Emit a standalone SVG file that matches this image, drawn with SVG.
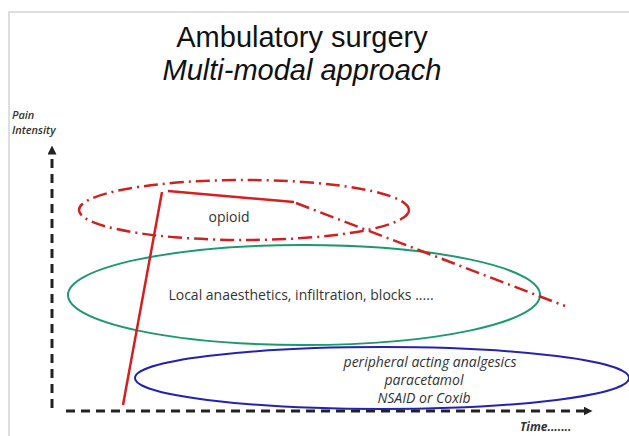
<svg xmlns="http://www.w3.org/2000/svg" width="629" height="436" viewBox="0 0 629 436">
<style>
.border{stroke:#d4d4d4;stroke-width:1.5;fill:none}
.axis{stroke:#222;stroke-width:3;stroke-dasharray:9,6;fill:none}
.red{stroke:#d42020;stroke-width:2.5;fill:none}
.reddd{stroke:#cc2222;stroke-width:2.5;fill:none;stroke-dasharray:14,5,2,5}
.title{font-family:"Liberation Sans",Arial,sans-serif;fill:#111;text-anchor:middle;font-size:29px}
.lbl{font-family:"Open Sans","DejaVu Sans",sans-serif;fill:#333;font-size:14px}
.ax{font-family:"Open Sans","DejaVu Sans",sans-serif;fill:#333;font-size:11px;font-style:italic;font-weight:600}
.tm{font-family:"Open Sans","DejaVu Sans",sans-serif;fill:#333;font-size:12px;font-style:italic;font-weight:700}
</style>
<defs>
<marker id="ah" viewBox="0 0 10 10" refX="5" refY="5" markerWidth="3" markerHeight="3" orient="auto">
<path d="M0,0 L10,5 L0,10 z" fill="#222"/>
</marker>
</defs>
<rect width="629" height="436" fill="#fff"/>
<path class="border" d="M9,436 V12 H629"/>
<g id="title">
<text class="title" x="302" y="47">Ambulatory surgery</text>
<text class="title" x="302" y="80" font-style="italic">Multi-modal approach</text>
</g>
<g id="axes">
<text class="ax" x="12" y="119">Pain</text>
<text class="ax" x="12" y="134">Intensity</text>
<line class="axis" x1="52" y1="408" x2="52" y2="150" marker-end="url(#ah)"/>
<line class="axis" x1="66" y1="411" x2="588" y2="411" marker-end="url(#ah)"/>
<text class="tm" x="520" y="431">Time.......</text>
</g>
<g id="opioid">
<ellipse class="reddd" cx="244" cy="210" rx="165" ry="30"/>
<text class="lbl" x="229" y="222" text-anchor="middle">opioid</text>
</g>
<g id="local">
<ellipse cx="304" cy="295" rx="236" ry="50" fill="none" stroke="#1d9870" stroke-width="2"/>
<text class="lbl" x="301" y="300" text-anchor="middle">Local anaesthetics, infiltration, blocks .....</text>
</g>
<g id="peripheral">
<ellipse cx="382" cy="378" rx="247" ry="31" fill="none" stroke="#2323b0" stroke-width="2"/>
<text class="lbl" x="430" y="367" text-anchor="middle" font-style="italic">peripheral acting analgesics</text>
<text class="lbl" x="424" y="385" text-anchor="middle" font-style="italic">paracetamol</text>
<text class="lbl" x="424" y="403" text-anchor="middle" font-style="italic">NSAID or Coxib</text>
</g>
<g id="connectors">
<line class="red" x1="123" y1="405" x2="162" y2="192"/>
<line class="red" x1="168" y1="191" x2="294" y2="202"/>
<line class="reddd" x1="296" y1="203" x2="565" y2="306"/>
</g>
</svg>
